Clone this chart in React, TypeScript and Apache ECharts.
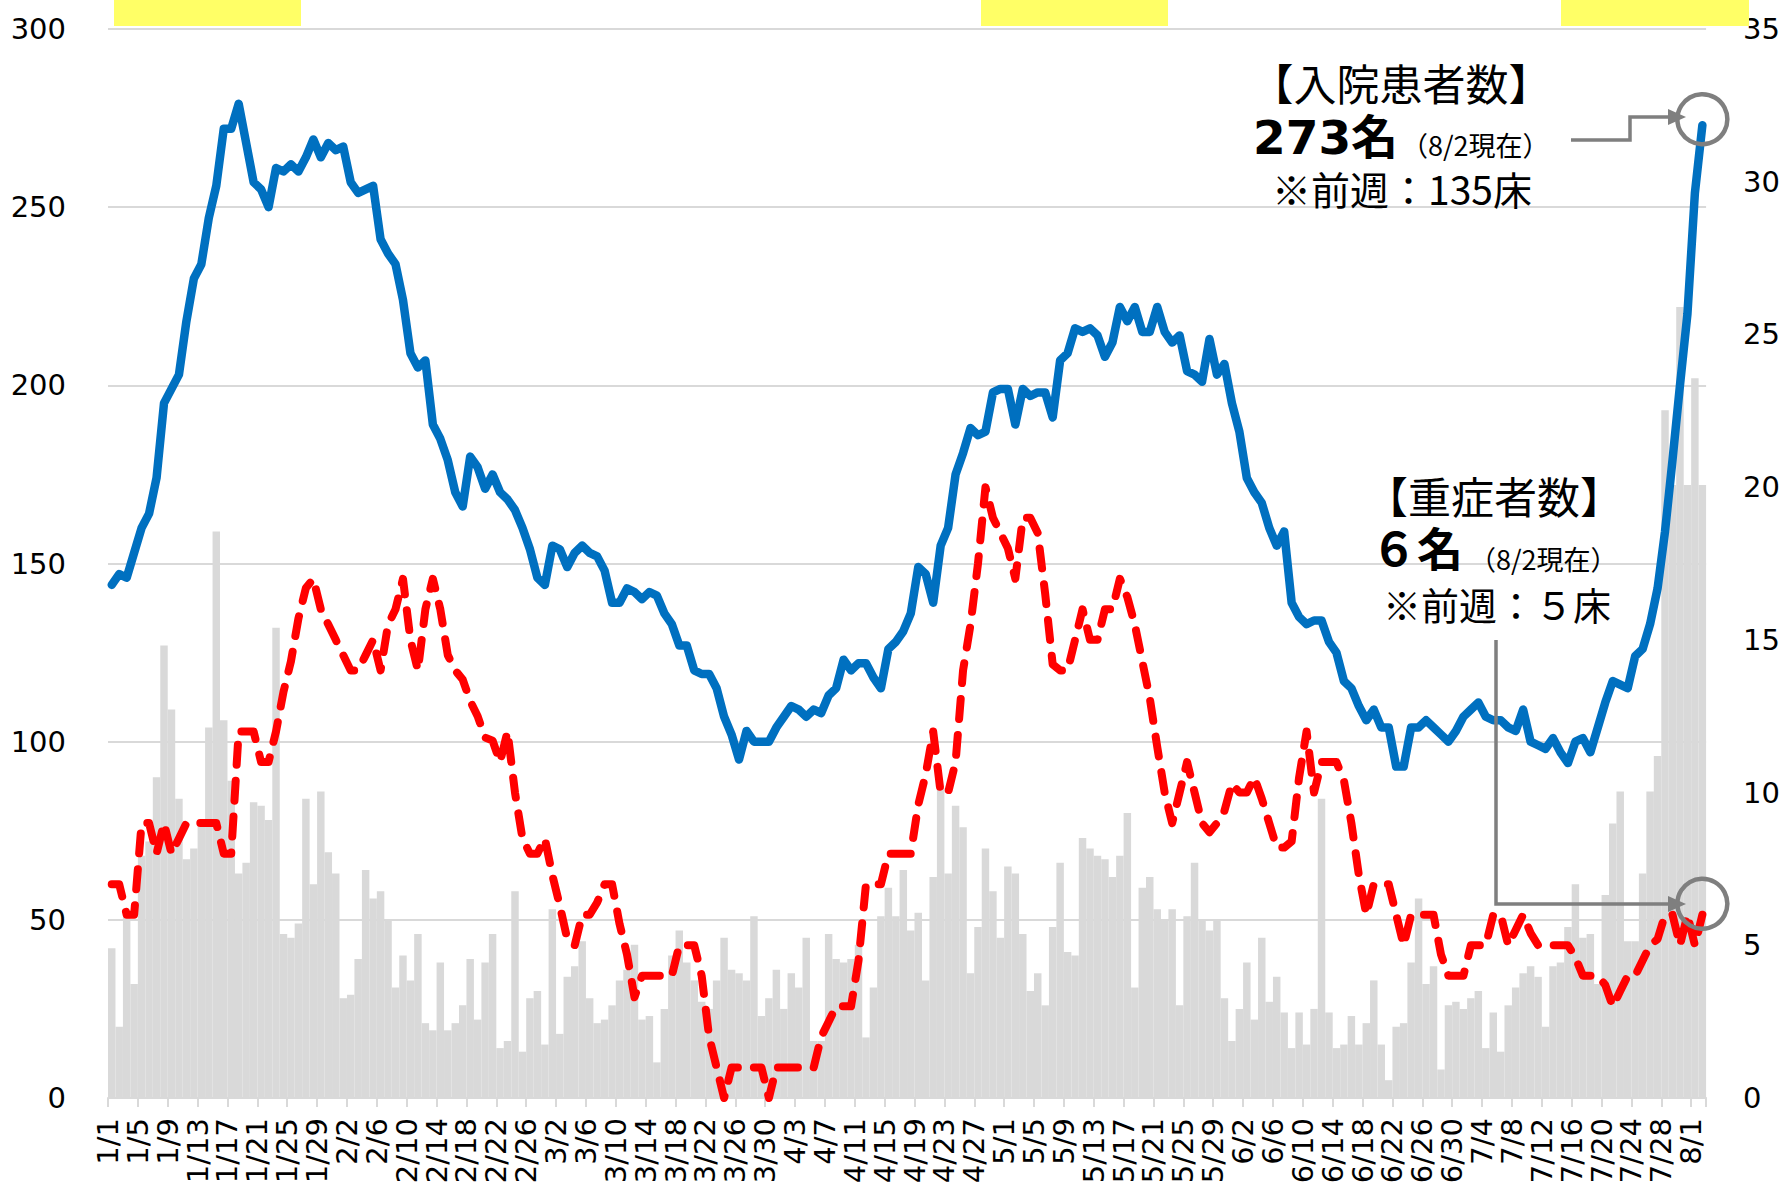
import React, { useEffect, useRef } from "react";
import * as echarts from "echarts";

// ---- categories: 2022/1/1 .. 8/2 (daily) ----
const monthLengths = [31, 28, 31, 30, 31, 30, 31, 2];
const dates: string[] = [];
monthLengths.forEach((n, m) => {
  for (let d = 1; d <= n; d++) dates.push(`${m + 1}/${d}`);
});

// ---- gray bars (left axis) ----
const dailyBars = [
  42, 20, 52, 32, 68, 72, 90, 127, 109, 84,
  67, 70, 77, 104, 159, 106, 89, 63, 66, 83,
  82, 78, 132, 46, 45, 49, 84, 60, 86, 69,
  63, 28, 29, 39, 64, 56, 58, 50, 31, 40,
  33, 46, 21, 19, 38, 19, 21, 26, 39, 22,
  38, 46, 14, 16, 58, 13, 28, 30, 15, 53,
  18, 34, 37, 44, 28, 21, 22, 26, 33, 36,
  43, 22, 23, 10, 25, 40, 47, 38, 33, 27,
  25, 33, 45, 36, 35, 33, 51, 23, 28, 36,
  25, 35, 31, 45, 16, 16, 46, 39, 38, 39,
  43, 17, 31, 51, 59, 51, 64, 47, 52, 33,
  62, 87, 63, 82, 76, 35, 48, 70, 58, 45,
  65, 63, 46, 30, 35, 26, 48, 66, 41, 40,
  73, 70, 68, 67, 62, 68, 80, 31, 59, 62,
  53, 50, 53, 26, 51, 66, 50, 47, 50, 28,
  16, 25, 38, 22, 45, 27, 34, 24, 14, 24,
  15, 25, 84, 24, 14, 15, 23, 15, 21, 33,
  15, 5, 20, 21, 38, 56, 32, 37, 8, 26,
  27, 25, 28, 30, 14, 24, 13, 26, 31, 35,
  37, 34, 20, 37, 38, 48, 60, 45, 46, 32,
  57, 77, 86, 44, 44, 63, 86, 96, 193, 172,
  222, 172, 202, 172,
];

// ---- inpatients (blue, left axis) ----
const hospitalized = [
  144, 147, 146, 153, 160, 164, 174, 195, 199, 203,
  218, 230, 234, 247, 256, 272, 272, 279, 268, 257,
  255, 250, 261, 260, 262, 260, 264, 269, 264, 268,
  266, 267, 257, 254, 255, 256, 241, 237, 234, 224,
  209, 205, 207, 189, 185, 179, 170, 166, 180, 177,
  171, 175, 170, 168, 165, 160, 154, 146, 144, 155,
  154, 149, 153, 155, 153, 152, 148, 139, 139, 143,
  142, 140, 142, 141, 136, 133, 127, 127, 120, 119,
  119, 115, 107, 102, 95, 103, 100, 100, 100, 104,
  107, 110, 109, 107, 109, 108, 113, 115, 123, 120,
  122, 122, 118, 115, 126, 128, 131, 136, 149, 147,
  139, 155, 160, 175, 181, 188, 186, 187, 198, 199,
  199, 189, 199, 197, 198, 198, 191, 207, 209, 216,
  215, 216, 214, 208, 212, 222, 218, 222, 215, 215,
  222, 215, 212, 214, 204, 203, 201, 213, 203, 206,
  195, 187, 174, 170, 167, 160, 155, 159, 139, 135,
  133, 134, 134, 128, 125, 117, 115, 110, 106, 109,
  104, 104, 93, 93, 104, 104, 106, 104, 102, 100,
  103, 107, 109, 111, 107, 106, 106, 104, 103, 109,
  100, 99, 98, 101, 97, 94, 100, 101, 97, 104,
  111, 117, 116, 115, 124, 126, 133, 143, 159, 179,
  200, 220, 254, 273,
];

// ---- severe cases (red dashed, right axis) ----
const severeCases = [
  7, 7, 6, 6, 9, 9, 8, 9, 8, 8.5,
  9, 9, 9, 9, 9, 8, 8, 12, 12, 12,
  11, 11, 12, 13.3, 14.3, 15.7, 16.7, 17, 16, 15.5,
  15, 14.5, 14, 14, 14.5, 15, 14, 15.5, 16, 17,
  15, 14, 16, 17, 16, 14.5, 14, 13.7, 13, 12.5,
  11.8, 11.7, 11, 12, 10, 8.5, 8, 8, 8.5, 7.3,
  6.3, 5.2, 5, 6, 6, 6.4, 7, 7, 5.7, 4.7,
  3.3, 4, 4, 4, 4, 4, 5, 5, 5, 4,
  2, 1, 0, 1, 1, 1, 1, 1, 0, 1,
  1, 1, 1, 1, 1, 2, 2.5, 3, 3, 3,
  4.5, 7, 7, 7, 8, 8, 8, 8, 9.6, 10.6,
  12, 10, 10, 11, 14, 15.5, 17.5, 20, 19, 18.5,
  18, 17, 19, 19, 18.5, 16.5, 14.2, 14, 14, 15,
  16, 15, 15, 16, 16, 17, 16.4, 15.5, 14.3, 13.1,
  11.5, 10, 9, 10, 11, 10, 9, 8.7, 9, 9.4,
  10.3, 10, 10, 10.5, 9.8, 9, 8.2, 8.2, 8.4, 10.5,
  12, 10, 11, 11, 11, 10.4, 9, 7.3, 6, 7,
  7, 7, 6, 5, 6, 6, 6, 6, 4.7, 4,
  4, 4, 5, 5, 5, 6, 6, 5, 5.5, 6,
  5.4, 5, 5, 5, 5, 5, 4.6, 4, 4, 4,
  3.7, 3, 3.5, 4, 4, 4.5, 5, 5.2, 6, 6,
  5, 6, 5, 6,
];

const leftAxisMax = 300;
const leftAxisStep = 50;
const rightAxisMax = 35;
const rightAxisStep = 5;
const dateLabelStep = 4;

const AXIS_FONT = "'DejaVu Sans', Verdana, sans-serif";
const CJK_FONT = "'Noto Sans CJK JP', sans-serif";
const MIX_FONT = "'DejaVu Sans', 'Noto Sans CJK JP', sans-serif";
const GRAY = "#7f7f7f";

const last = dates.length - 1;

function txt(text: string, x: number, y: number, size: number, opts: any = {}) {
  return {
    type: "text",
    x,
    y,
    z: 100,
    style: {
      text,
      fontSize: size,
      fontFamily: opts.family || CJK_FONT,
      fontWeight: opts.bold ? "bold" : "normal",
      fill: "#000",
      align: opts.align || "left",
      verticalAlign: "middle",
    },
  };
}

const option: any = {
  animation: false,
  backgroundColor: "#ffffff",
  grid: { left: 108, right: 72, top: 29, bottom: 91, containLabel: false },
  xAxis: [
    {
      type: "category",
      data: dates,
      boundaryGap: true,
      axisLine: { show: false },
      axisTick: { show: false },
      axisLabel: { show: false },
      splitLine: { show: false },
    },
    {
      type: "value",
      min: 0,
      max: dates.length,
      interval: dateLabelStep,
      position: "bottom",
      axisLine: { show: true, lineStyle: { color: "#d9d9d9", width: 2 } },
      axisTick: { show: true, length: 9, lineStyle: { color: "#d9d9d9", width: 2 } },
      axisLabel: {
        rotate: 90,
        margin: 20,
        fontSize: 29,
        fontFamily: AXIS_FONT,
        color: "#000",
        formatter: (v: number) => dates[v] ?? "",
      },
      splitLine: { show: false },
    },
  ],
  yAxis: [
    {
      type: "value",
      min: 0,
      max: leftAxisMax,
      interval: leftAxisStep,
      axisLine: { show: false },
      axisTick: { show: false },
      axisLabel: { margin: 42, fontSize: 29, fontFamily: AXIS_FONT, color: "#000" },
      splitLine: { show: true, lineStyle: { color: "#d9d9d9", width: 2 } },
    },
    {
      type: "value",
      min: 0,
      max: rightAxisMax,
      interval: rightAxisStep,
      position: "right",
      axisLine: { show: false },
      axisTick: { show: false },
      axisLabel: { margin: 37, fontSize: 29, fontFamily: AXIS_FONT, color: "#000" },
      splitLine: { show: false },
    },
  ],
  series: [
    {
      name: "bars",
      type: "bar",
      data: dailyBars,
      barCategoryGap: "0%",
      itemStyle: { color: "#d9d9d9" },
      z: 1,
    },
    {
      name: "入院患者数",
      type: "line",
      data: hospitalized,
      symbol: "none",
      lineStyle: { color: "#0070c0", width: 8.5, join: "round", cap: "round" },
      z: 3,
      markPoint: {
        symbol: "circle",
        symbolSize: 50,
        silent: true,
        label: { show: false },
        itemStyle: { color: "rgba(255,255,255,0)", borderColor: GRAY, borderWidth: 4.5 },
        data: [{ coord: [dates[last], hospitalized[last]], symbolOffset: [0, -6] }],
      },
    },
    {
      name: "重症者数",
      type: "line",
      yAxisIndex: 1,
      data: severeCases,
      symbol: "none",
      lineStyle: { color: "#ff0000", width: 8, type: [20, 16], cap: "round", join: "round" },
      z: 4,
      markPoint: {
        symbol: "circle",
        symbolSize: 50,
        silent: true,
        label: { show: false },
        itemStyle: { color: "rgba(255,255,255,0)", borderColor: GRAY, borderWidth: 4.5 },
        data: [{ coord: [dates[last], severeCases[last]], symbolOffset: [0, -11] }],
      },
    },
  ],
  graphic: [
    // yellow boxes at the top
    { type: "rect", z: 50, shape: { x: 114, y: 0, width: 187, height: 26 }, style: { fill: "#ffff66" } },
    { type: "rect", z: 50, shape: { x: 981, y: 0, width: 187, height: 26 }, style: { fill: "#ffff66" } },
    { type: "rect", z: 50, shape: { x: 1561, y: 0, width: 188, height: 26 }, style: { fill: "#ffff66" } },
    // inpatients annotation
    txt("【入院患者数】", 1401, 82, 43, { align: "center" }),
    txt("273名", 1253, 137, 47, { bold: true, family: MIX_FONT }),
    txt("（8/2現在）", 1401, 144, 27),
    txt("※前週：135床", 1272, 188, 39),
    {
      type: "polyline",
      z: 90,
      shape: { points: [[1571, 140], [1630, 140], [1630, 117], [1672, 117]] },
      style: { stroke: GRAY, lineWidth: 3.5, fill: null },
    },
    { type: "polygon", z: 90, shape: { points: [[1668, 109], [1686, 117], [1668, 125]] }, style: { fill: GRAY } },
    // severe annotation
    txt("【重症者数】", 1494, 495, 43, { align: "center" }),
    txt("６名", 1371, 550, 46, { bold: true, family: MIX_FONT }),
    txt("（8/2現在）", 1469, 558, 27),
    txt("※前週：５床", 1383, 603, 38),
    {
      type: "polyline",
      z: 90,
      shape: { points: [[1496, 640], [1496, 904], [1672, 904]] },
      style: { stroke: GRAY, lineWidth: 3.5, fill: null },
    },
    { type: "polygon", z: 90, shape: { points: [[1668, 896], [1686, 904], [1668, 912]] }, style: { fill: GRAY } },
  ],
};

export default function App() {
  const ref = useRef<HTMLDivElement>(null);
  useEffect(() => {
    const chart = echarts.init(ref.current!, null, { renderer: "svg" });
    chart.setOption(option);
    return () => chart.dispose();
  }, []);
  return (
    <div
      ref={ref}
      style={{ position: "fixed", left: 0, top: 0, width: 1783, height: 1189, background: "#fff" }}
    />
  );
}
